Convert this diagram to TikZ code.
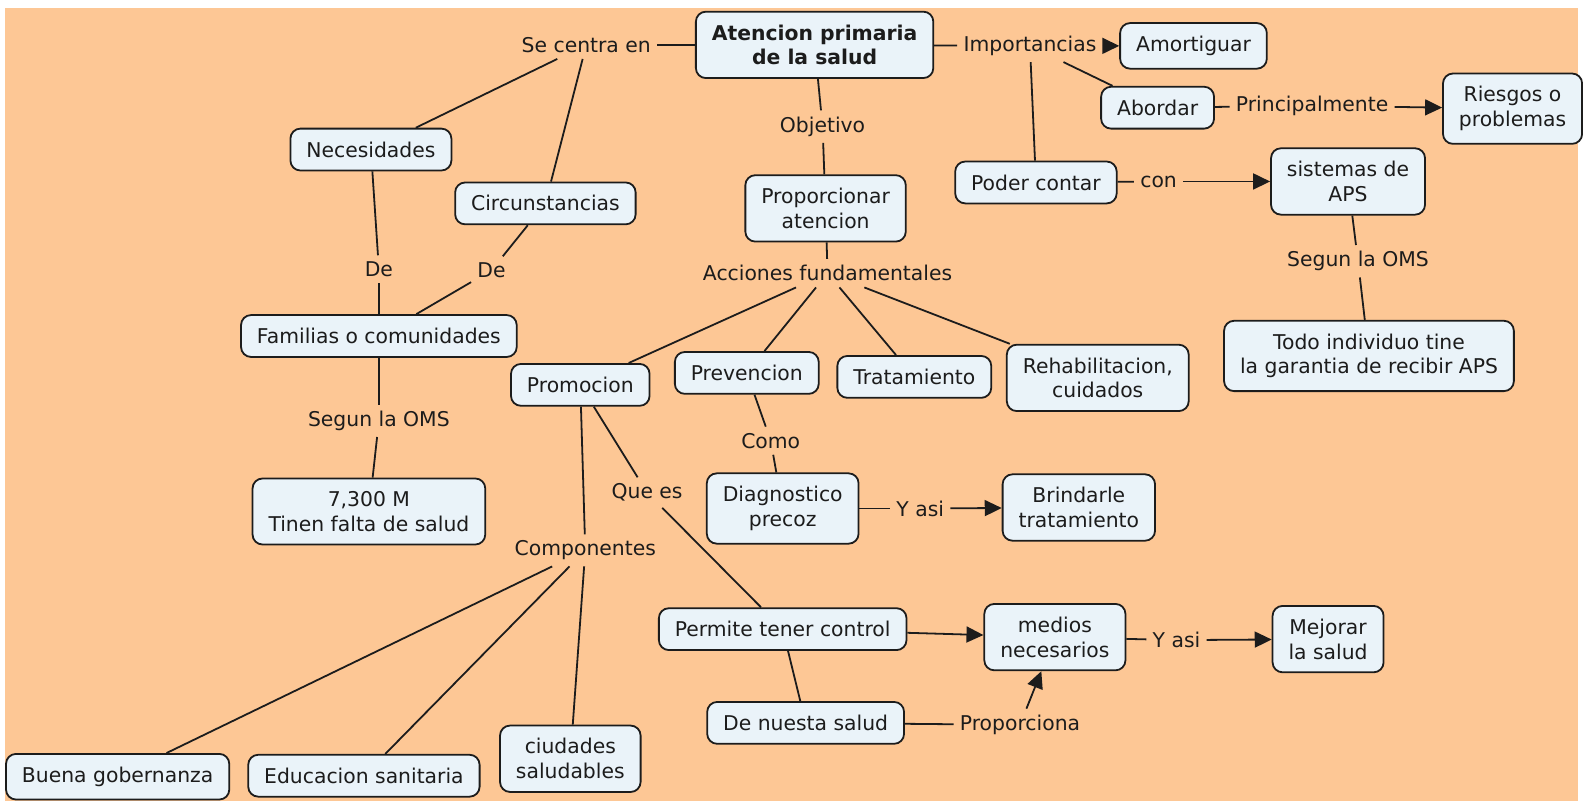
\documentclass[tikz,border=0pt]{standalone}
\usepackage{fontspec}
\setmainfont{DejaVu Sans}
\usetikzlibrary{arrows.meta}
\definecolor{peach}{RGB}{253,199,149}
\definecolor{boxfill}{RGB}{234,243,249}
\definecolor{ink}{RGB}{28,28,28}

\begin{document}
\begin{tikzpicture}[x=0.5pt, y=-0.5pt,
  every node/.style={font=\fontsize{10.2}{12.4}\selectfont, text=ink},
  concept/.style={draw=ink, line width=0.9pt, fill=boxfill, rounded corners=5pt,
    align=center, inner xsep=8pt, inner ysep=6.5pt, minimum height=21pt},
  headconcept/.style={concept, font=\fontsize{10.2}{12.4}\selectfont\bfseries},
  linkword/.style={inner sep=3pt},
  conn/.style={draw=ink, line width=0.9pt},
  arr/.style={conn, -{Triangle[length=8.5pt, width=8pt]}}
]
% background
\fill[white] (0,0) rectangle (1583,803);
\fill[peach] (5,8) rectangle (1583,803);

% concepts
\node[headconcept] (aps) at (817,45) {Atencion primaria\\de la salud};
\node[concept] (amortiguar) at (1197,46) {Amortiguar};
\node[concept] (abordar) at (1161,108) {Abordar};
\node[concept] (riesgos) at (1517,109) {Riesgos o\\problemas};
\node[concept] (podercontar) at (1039,183) {Poder contar};
\node[concept] (sistemas) at (1352,182) {sistemas de\\APS};
\node[concept] (todoindiv) at (1373,357) {Todo individuo tine\\la garantia de recibir APS};
\node[concept] (necesidades) at (372,150) {Necesidades};
\node[concept] (circunst) at (547,204) {Circunstancias};
\node[concept] (proporcionar) at (828,209) {Proporcionar\\atencion};
\node[concept] (familias) at (380,337) {Familias o comunidades};
\node[concept] (promocion) at (582,386) {Promocion};
\node[concept] (prevencion) at (749,374) {Prevencion};
\node[concept] (tratamiento) at (917,378) {Tratamiento};
\node[concept] (rehab) at (1101,379) {Rehabilitacion,\\cuidados};
\node[concept] (millones) at (370,513) {7,300 M\\Tinen falta de salud};
\node[concept] (diagnostico) at (785,510) {Diagnostico\\precoz};
\node[concept] (brindarle) at (1082,509) {Brindarle\\tratamiento};
\node[concept] (permite) at (785,631) {Permite tener control};
\node[concept] (denuesta) at (808,725) {De nuesta salud};
\node[concept] (medios) at (1058,639) {medios\\necesarios};
\node[concept] (mejorar) at (1332,641) {Mejorar\\la salud};
\node[concept] (gobernanza) at (118,779) {Buena gobernanza};
\node[concept] (educacion) at (365,778) {Educacion sanitaria};
\node[concept] (ciudades) at (572,761) {ciudades\\saludables};

% linking words
\node[linkword] (lsecentra) at (588,45) {Se centra en};
\node[linkword] (limport) at (1033,46) {Importancias};
\node[linkword] (lprincip) at (1316,106) {Principalmente};
\node[linkword] (lobjetivo) at (825,127) {Objetivo};
\node[linkword] (lcon) at (1162,182) {con};
\node[linkword] (lsegunr) at (1362,262) {Segun la OMS};
\node[linkword] (ldel) at (380,270) {De};
\node[linkword] (lder) at (493,271) {De};
\node[linkword] (lacciones) at (830,274) {Acciones fundamentales};
\node[linkword] (lsegunl) at (380,422) {Segun la OMS};
\node[linkword] (lcomo) at (773,442) {Como};
\node[linkword] (lquees) at (649,494) {Que es};
\node[linkword] (lyasia) at (923,510) {Y asi};
\node[linkword] (lcomponentes) at (587,552) {Componentes};
\node[linkword] (lyasib) at (1180,642) {Y asi};
\node[linkword] (lproporciona) at (1023,727) {Proporciona};

% connectors
\draw[conn] (aps) -- (lsecentra);
\draw[conn] (lsecentra) -- (necesidades);
\draw[conn] (lsecentra) -- (circunst);
\draw[conn] (necesidades) -- (ldel);
\draw[conn] (ldel) -- (familias);
\draw[conn] (circunst) -- (lder);
\draw[conn] (lder) -- (familias);
\draw[conn] (familias) -- (lsegunl);
\draw[conn] (lsegunl) -- (millones);
\draw[conn] (aps) -- (lobjetivo);
\draw[conn] (lobjetivo) -- (proporcionar);
\draw[conn] (aps) -- (limport);
\draw[arr] (limport) -- (amortiguar);
\draw[conn] (limport) -- (abordar);
\draw[conn] (limport) -- (podercontar);
\draw[conn] (abordar) -- (lprincip);
\draw[arr] (lprincip) -- (riesgos);
\draw[conn] (podercontar) -- (lcon);
\draw[arr] (lcon) -- (sistemas);
\draw[conn] (sistemas) -- (lsegunr);
\draw[conn] (lsegunr) -- (todoindiv);
\draw[conn] (proporcionar) -- (lacciones);
\draw[conn] (lacciones) -- (promocion);
\draw[conn] (lacciones) -- (prevencion);
\draw[conn] (lacciones) -- (tratamiento);
\draw[conn] (lacciones) -- (rehab);
\draw[conn] (prevencion) -- (lcomo);
\draw[conn] (lcomo) -- (diagnostico);
\draw[conn] (diagnostico) -- (lyasia);
\draw[arr] (lyasia) -- (brindarle);
\draw[conn] (promocion) -- (lquees);
\draw[conn] (lquees) -- (permite);
\draw[conn] (promocion) -- (lcomponentes);
\draw[conn] (lcomponentes) -- (gobernanza);
\draw[conn] (lcomponentes) -- (educacion);
\draw[conn] (lcomponentes) -- (ciudades);
\draw[arr] (permite) -- (medios);
\draw[conn] (permite) -- (denuesta);
\draw[conn] (denuesta) -- (lproporciona);
\draw[arr] (lproporciona) -- (medios);
\draw[conn] (medios) -- (lyasib);
\draw[arr] (lyasib) -- (mejorar);
\end{tikzpicture}
\end{document}
